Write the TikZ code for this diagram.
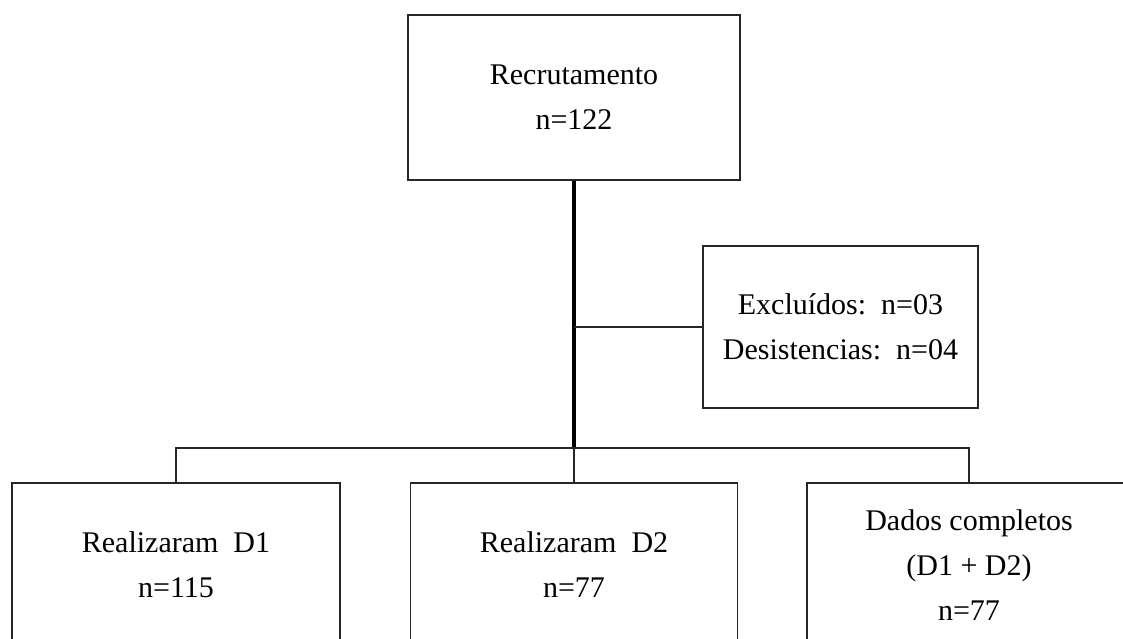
\documentclass[tikz,border=0pt]{standalone}
\usepackage{fontspec}
\setmainfont{Liberation Serif}
\begin{document}
\begin{tikzpicture}[x=1pt,y=-1pt,
  box/.style={draw=black!85, line width=1.6pt, rectangle, align=center,
    font=\fontsize{30}{45}\selectfont, inner sep=0pt},
  thin/.style={draw=black!85, line width=1.6pt},
  trunk/.style={draw=black, line width=3.6pt}]
\useasboundingbox (0,0) rectangle (1123,639);
\clip (0,0) rectangle (1123,639);
\node[box, minimum width=332pt, minimum height=165pt] (top) at (574,97.5) {Recrutamento\\n=122};
\node[box, minimum width=275pt, minimum height=162pt] (excl) at (840.5,327) {Excluídos:\ \ n=03\\Desistencias:\ \ n=04};
\node[box, minimum width=328pt, minimum height=164pt] (d1) at (176,565) {Realizaram\ \ D1\\n=115};
\node[box, minimum width=327pt, minimum height=164pt] (d2) at (574,565) {Realizaram\ \ D2\\n=77};
\node[box, minimum width=324pt, minimum height=164pt] (dc) at (969,565) {Dados completos\\(D1 + D2)\\n=77};
\coordinate (j) at (574,327);
\coordinate (b) at (574,448);
\draw[trunk] (top.south) -- (b);
\draw[thin] (j) -- (excl.west);
\draw[thin] (d1.north) |- (b) -| (dc.north);
\draw[thin] (b) -- (d2.north);
\end{tikzpicture}
\end{document}
